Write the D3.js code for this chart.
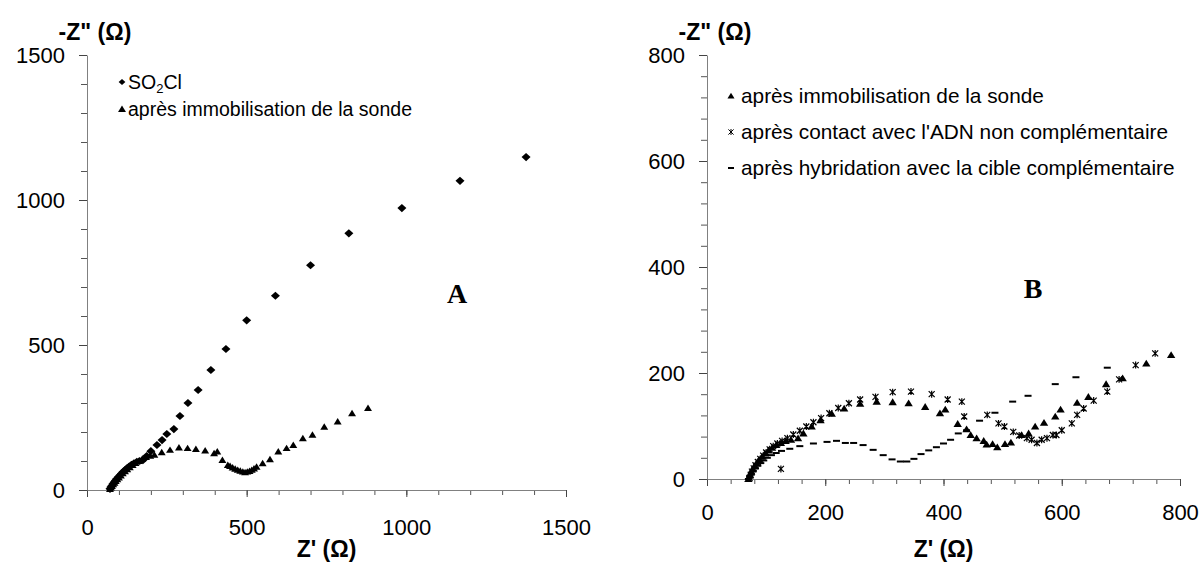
<!DOCTYPE html>
<html><head><meta charset="utf-8">
<script src="https://cdn.jsdelivr.net/npm/d3@7"></script>
<style>body{margin:0;background:#fff}svg{display:block}</style>
</head><body>
<svg id="c" width="1203" height="566"></svg>
<script>
// ---------- DATA ----------
// Panel A
const so2clX = [72,75,78,81,85,89,93,98,103,108,113,119,125,132,139,147,156,165,175,187,200,219,235,250,272,291,316,348,388,435,500,590,700,820,986,1168,1375];
const so2clY = [4,10,15,21,27,33,39,45,51,57,63,69,75,81,87,92,97,100,103,117,134,155,172,193,210,255,300,345,414,486,585,670,775,885,972,1066,1148];
const immoAX = [72,75,78,82,86,90,95,100,106,112,119,126,134,143,152,162,173,185,198,211,234,260,288,315,341,370,398,408,424,441,448,456,464,472,480,488,495,502,509,516,523,531,550,573,599,625,646,676,706,743,785,830,880];
const immoAY = [3,8,13,19,25,31,37,43,50,57,64,71,78,86,93,100,107,113,118,121,130,138,146,144,141,136,126,132,103,86,82,77,73,69,66,63,61,63,65,69,74,80,92,106,132,144,155,178,190,218,236,264,282];
// Panel B
const immoBX = [70,72,74,77,80,84,88,93,98,104,110,117,125,133,142,154,163,177,192,211,232,259,287,314,341,369,394,403,424,439,446,456,468,473,483,491,504,514,532,544,555,570,589,598,626,645,675,703,743,785];
const immoBY = [0,6,12,18,24,30,36,42,48,54,59,64,68,72,74,77,86,99,111,123,133,142,146,145,143,136,124,131,104,94,83,77,72,65,66,60,66,69,83,86,99,106,118,131,144,155,179,190,218,234];
const nonCompX = [72,74,76,79,82,86,90,95,100,106,112,119,125,127,136,146,157,168,180,193,207,222,240,259,285,314,345,380,407,431,435,474,493,503,518,528,541,549,558,566,575,585,591,600,617,626,637,654,677,697,725,758];
const nonCompY = [2,8,14,20,26,32,38,44,50,56,62,67,19,72,77,84,91,99,107,115,124,134,143,150,155,164,165,160,150,146,118,121,105,99,89,82,77,74,68,74,77,83,83,92,105,121,133,148,165,188,215,237];
const hybX = [70,72,75,78,82,86,91,96,102,109,117,126,140,157,180,203,219,234,248,264,281,298,313,327,338,350,362,375,388,400,412,425,439,461,487,517,543,589,624,677];
const hybY = [0,5,10,15,20,25,30,35,40,45,49,53,57,62,67,70,72,68,68,64,55,45,37,33,33,38,47,54,60,67,74,86,92,110,125,146,157,179,192,210];

const ticksA = [0,500,1000,1500];
const ticksB = [0,200,400,600,800];
const legendA = ["SO2Cl","après immobilisation de la sonde"];
const legendB = ["après immobilisation de la sonde","après contact avec l'ADN non complémentaire","après hybridation avec la cible complémentaire"];
const yTitle = '-Z" (\u03A9)';
const xTitle = "Z' (\u03A9)";

// ---------- DRAW ----------
const svg = d3.select("#c");
svg.append("rect").attr("width",1203).attr("height",566).attr("fill","#fff");
const FONT = "'Liberation Sans', Arial, sans-serif";

const diamond = {draw(ctx,s){const w=s,h=s*0.9;ctx.moveTo(0,-h);ctx.lineTo(w,0);ctx.lineTo(0,h);ctx.lineTo(-w,0);ctx.closePath();}};
const tri = {draw(ctx,s){ctx.moveTo(0,-s);ctx.lineTo(s*1.1,s*0.8);ctx.lineTo(-s*1.1,s*0.8);ctx.closePath();}};
const star = {draw(ctx,s){ctx.moveTo(-s,-s);ctx.lineTo(s,s);ctx.moveTo(s,-s);ctx.lineTo(-s,s);ctx.moveTo(0,-s*1.15);ctx.lineTo(0,s*1.15);}};
const dash = {draw(ctx,s){ctx.moveTo(-s,-1);ctx.lineTo(s,-1);ctx.lineTo(s,1);ctx.lineTo(-s,1);ctx.closePath();}};

function panel(cfg){
  const x = d3.scaleLinear().domain([0,cfg.max]).range(cfg.xr);
  const y = d3.scaleLinear().domain([0,cfg.max]).range(cfg.yr);
  const g = svg.append("g");
  const minor = d3.range(0,cfg.max+1,cfg.minor);
  const fmt = d3.format("d");
  g.append("g").attr("transform",`translate(0,${cfg.yr[0]})`)
    .call(d3.axisBottom(x).tickValues(minor).tickSize(5).tickFormat("").tickSizeOuter(0))
    .call(a=>{a.select(".domain").remove();a.selectAll("line").attr("stroke","#555");});
  g.append("g").attr("transform",`translate(${cfg.xr[0]},0)`)
    .call(d3.axisLeft(y).tickValues(minor).tickSize(6).tickFormat("").tickSizeOuter(0))
    .call(a=>{a.select(".domain").remove();a.selectAll("line").attr("stroke","#555");});
  g.append("g").attr("transform",`translate(0,${cfg.yr[0]})`)
    .call(d3.axisBottom(x).tickValues(cfg.ticks).tickFormat(fmt).tickSize(7).tickPadding(cfg.xpad).tickSizeOuter(0))
    .call(a=>{a.select(".domain").attr("stroke","#808080");a.selectAll("line").attr("stroke","#444");
      a.selectAll("text").attr("font-family",FONT).attr("font-size",22).attr("fill","#000");});
  g.append("g").attr("transform",`translate(${cfg.xr[0]},0)`)
    .call(d3.axisLeft(y).tickValues(cfg.ticks).tickFormat(fmt).tickSize(8).tickPadding(14).tickSizeOuter(0))
    .call(a=>{a.select(".domain").attr("stroke","#808080");a.selectAll("line").attr("stroke","#444");
      a.selectAll("text").attr("font-family",FONT).attr("font-size",22).attr("fill","#000");});
  g.append("text").attr("x",cfg.xr[0]+8).attr("y",40).attr("text-anchor","middle")
    .attr("font-family",FONT).attr("font-weight","bold").attr("font-size",23).text(yTitle);
  g.append("text").attr("x",(cfg.xr[0]+cfg.xr[1])/2).attr("y",cfg.xtY).attr("text-anchor","middle")
    .attr("font-family",FONT).attr("font-weight","bold").attr("font-size",23).text(xTitle);
  g.append("text").attr("x",cfg.lab[0]).attr("y",cfg.lab[1]).attr("text-anchor","middle")
    .attr("font-family","'Liberation Serif', 'Times New Roman', serif").attr("font-weight","bold").attr("font-size",28).text(cfg.letter);
  cfg.series.forEach(s=>{
    const pts = s.xs.map((v,i)=>[v,s.ys[i]]);
    const sym = d3.symbol().type(s.type).size(s.size);
    g.append("g").selectAll("path").data(pts).join("path")
      .attr("transform",d=>`translate(${x(d[0])},${y(d[1])})`)
      .attr("d",sym)
      .attr("fill",s.type===star?"none":"#000")
      .attr("stroke",s.type===star?"#000":"none").attr("stroke-width",1.2);
  });
  cfg.legend.forEach((l,i)=>{
    const ly = cfg.leg[1]+i*cfg.leg[2];
    const s = cfg.series[i];
    g.append("path").attr("transform",`translate(${cfg.leg[0]},${ly})`)
      .attr("d",d3.symbol().type(s.type).size(s.lsize))
      .attr("fill",s.type===star?"none":"#000").attr("stroke",s.type===star?"#000":"none").attr("stroke-width",1);
    const t = g.append("text").attr("x",cfg.leg[0]+cfg.leg[3]).attr("y",ly+7)
      .attr("font-family",FONT).attr("font-size",cfg.lfs).attr("fill","#000");
    if(l==="SO2Cl"){
      t.append("tspan").text("SO");
      t.append("tspan").attr("font-size",13).attr("dy",4).text("2");
      t.append("tspan").attr("dy",-4).text("Cl");
    } else t.text(l);
  });
}

panel({max:1500,minor:100,ticks:ticksA,xr:[87,566],yr:[490,55],xpad:22,xtY:557,
  lab:[457,303],letter:"A",leg:[122,82,27,6],lfs:19.5,legend:legendA,
  series:[{xs:so2clX,ys:so2clY,type:diamond,size:4.5,lsize:3.4},
          {xs:immoAX,ys:immoAY,type:tri,size:3.6,lsize:3.6}]});
panel({max:800,minor:40,ticks:ticksB,xr:[707,1180],yr:[479,55],xpad:18,xtY:557,
  lab:[1033,298],letter:"B",leg:[731,96,36,10],lfs:20.8,legend:legendB,
  series:[{xs:immoBX,ys:immoBY,type:tri,size:3.8,lsize:3.2},
          {xs:nonCompX,ys:nonCompY,type:star,size:3,lsize:2.6},
          {xs:hybX,ys:hybY,type:dash,size:3.5,lsize:3}]});
</script>
</body></html>
